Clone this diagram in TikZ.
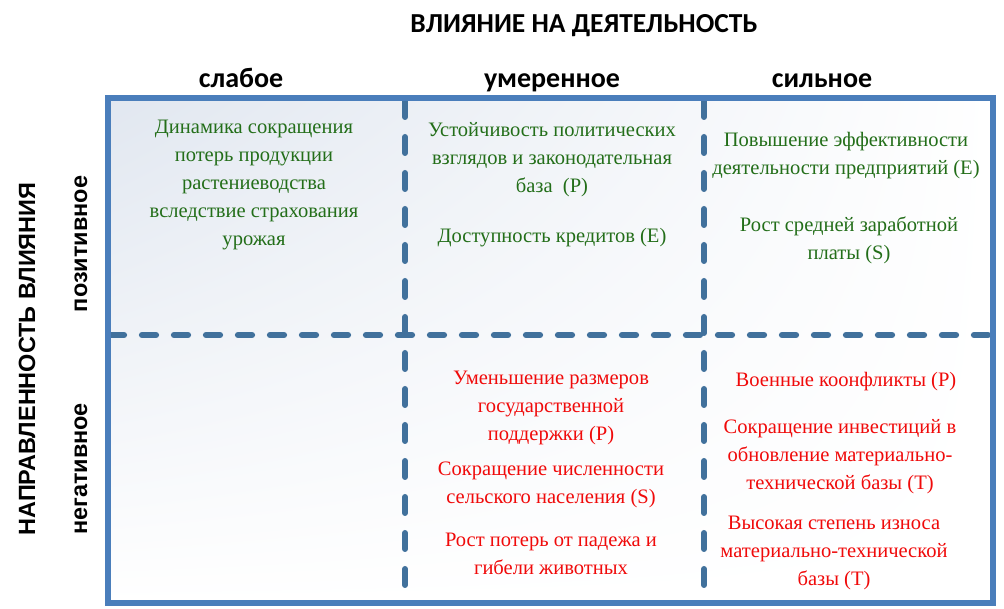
\documentclass[tikz,border=0pt]{standalone}
\usepackage{fontspec}
\usetikzlibrary{shadings}
\setmainfont{Liberation Serif}
\newfontfamily\hdrfont{Carlito}
\newfontfamily\sidefont{Liberation Sans}
\definecolor{boxblue}{HTML}{4A7EBB}
\definecolor{dashblue}{HTML}{41719C}
\definecolor{tintblue}{HTML}{E1E7F0}
\definecolor{posgreen}{RGB}{35,110,25}
\definecolor{negred}{RGB}{240,10,10}
\begin{document}
\begin{tikzpicture}[x=0.75pt,y=-0.75pt,
  titletext/.style={font=\hdrfont\bfseries\fontsize{20.6}{24}\selectfont, inner sep=0pt},
  colhead/.style={font=\hdrfont\bfseries\fontsize{21}{24}\selectfont, inner sep=0pt, anchor=base},
  sidehead/.style={font=\sidefont\bfseries\fontsize{17.6}{20}\selectfont, inner sep=0pt, rotate=90},
  rowhead/.style={font=\sidefont\bfseries\fontsize{17.6}{20}\selectfont, inner sep=0pt, rotate=90},
  celltext/.style={font=\fontsize{15.4}{21}\selectfont, align=center, inner sep=0pt},
  postext/.style={celltext, text=posgreen},
  negtext/.style={celltext, text=negred},
  frame/.style={draw=boxblue, line width=4.9pt},
  vdivider/.style={draw=dashblue, line width=4.5pt, line cap=round, dash pattern=on 12pt off 15pt},
  hdivider/.style={draw=dashblue, line width=4.7pt, line cap=round, dash pattern=on 10.5pt off 13.5pt}
]
\useasboundingbox (0,0) rectangle (1004,609);
% background shading of the matrix
\shade[upper left=tintblue, upper right=white, lower left=white, lower right=white]
  (108,98) rectangle (993,603);
% grid corner coordinates
\coordinate (tl) at (108,98);
\coordinate (br) at (993,603);
\coordinate (v1t) at (405,101);
\coordinate (v1b) at (405,603);
\coordinate (v2t) at (704,101);
\coordinate (v2b) at (704,603);
\coordinate (hl) at (110,335);
\coordinate (hr) at (1001,335);
% dashed dividers
\draw[vdivider] (v1t) -- (v1b);
\draw[vdivider] (v2t) -- (v2b);
\draw[hdivider] (hl) -- (hr);
% frame
\draw[frame] (tl) rectangle (br);

% headings
\node[titletext] (title) at (584,26) {ВЛИЯНИЕ НА ДЕЯТЕЛЬНОСТЬ};
\node[colhead] (weak) at (241,88) {слабое};
\node[colhead] (mod) at (552,88) {умеренное};
\node[colhead] (strong) at (822,88) {сильное};
\node[sidehead] (dir) at (27,359) {НАПРАВЛЕННОСТЬ ВЛИЯНИЯ};
\node[rowhead] (posrow) at (81,244) {позитивное};
\node[rowhead] (negrow) at (81,469) {негативное};

% positive row
\node[postext] (p1) at (254,184.5) {Динамика сокращения\\потерь продукции\\растениеводства\\вследствие страхования\\урожая};
\node[postext] (p2a) at (552,160) {Устойчивость политических\\взглядов и законодательная\\база~~(P)};
\node[postext] (p2b) at (552,238) {Доступность кредитов (E)};
\node[postext] (p3a) at (846,155.5) {Повышение эффективности\\деятельности предприятий (E)};
\node[postext] (p3b) at (849,240.5) {Рост средней заработной\\платы (S)};

% negative row
\node[negtext] (n2a) at (551,408) {Уменьшение размеров\\государственной\\поддержки (P)};
\node[negtext] (n2b) at (551,485) {Сокращение численности\\сельского населения (S)};
\node[negtext] (n2c) at (551,554) {Рост потерь от падежа и\\гибели животных};
\node[negtext] (n3a) at (846,382) {Военные коонфликты (P)};
\node[negtext] (n3b) at (840,456.5) {Сокращение инвестиций в\\обновление материально-\\технической базы (T)};
\node[negtext] (n3c) at (834,552.5) {Высокая степень износа\\материально-технической\\базы (T)};
\end{tikzpicture}
\end{document}
